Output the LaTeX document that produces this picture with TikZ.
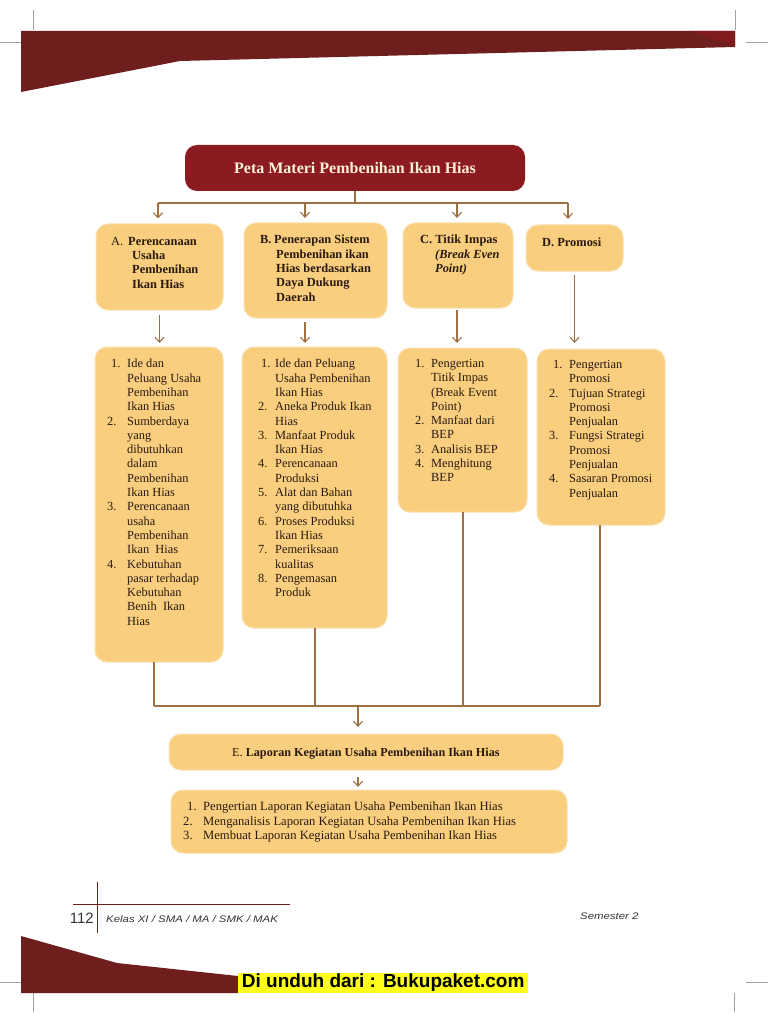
\documentclass[tikz,border=0pt]{standalone}
\usepackage{fontspec}
\usepackage{graphicx}
\usetikzlibrary{arrows.meta,calc}
\setmainfont{Liberation Serif}
\newfontfamily\sansf{Liberation Sans}
\definecolor{maroon}{HTML}{6E1E1C}
\definecolor{titlered}{HTML}{8B1B20}
\definecolor{titletext}{HTML}{FCF0DC}
\definecolor{boxfill}{HTML}{F9CE7F}
\definecolor{boxedge}{HTML}{FBE0AE}
\definecolor{conncol}{HTML}{9E7042}
\definecolor{ink}{HTML}{2A1A0E}
\definecolor{cropgray}{HTML}{A0A0A0}
\definecolor{hilite}{HTML}{FFFF1A}
\newlength\numw
\newlength\firstoff
\setlength\firstoff{4pt}
\newcommand\nm[1]{\makebox[\numw][l]{#1}}
\newcommand\nmf[1]{\makebox[\numw][l]{\hspace*{\firstoff}#1}}
\newcommand\ind{\hspace*{\numw}}
\newcommand\lstfont{\fontsize{12.4}{14.3}\selectfont}
\begin{document}
\begin{tikzpicture}[x=1pt,y=-1pt,
  box/.style={fill=boxfill, draw=boxedge, line width=1pt, rounded corners=12pt, inner sep=0pt, outer sep=0pt},
  hdr/.style={anchor=north west, inner sep=0pt, align=left, text=ink, font=\lstfont\bfseries},
  lst/.style={anchor=north west, inner sep=0pt, align=left, text=ink},
  cline/.style={draw=conncol, line width=1.1pt},
  arr/.style={cline, -{Straight Barb[length=5pt,width=9pt]}},
  crop/.style={draw=cropgray, line width=0.6pt},
]
\useasboundingbox (0,0) rectangle (768,1024);
\fill[white] (0,0) rectangle (768,1024);

% crop marks
\draw[crop] (33,10) -- (33,30);
\draw[crop] (0,42) -- (21,42);
\draw[crop] (735,10) -- (735,30);
\draw[crop] (746,42) -- (768,42);
\draw[crop] (33,993) -- (33,1012);
\draw[crop] (0,982) -- (21,982);
\draw[crop] (734,993) -- (734,1012);
\draw[crop] (746,982) -- (768,982);

% top band
\fill[maroon] (21,31) -- (735,31) -- (735,47) -- (180,61) -- (21,92) -- cycle;
\fill[titlered!60!maroon] (690,31) -- (735,31) -- (735,46) -- cycle;

% title
\node[fill=titlered, rounded corners=12pt, minimum width=340pt, minimum height=46pt, inner sep=0pt,
      text=titletext, font=\fontsize{16}{18}\selectfont\bfseries] (T) at (355,168) {Peta Materi Pembenihan Ikan Hias};

% top row boxes
\node[box, minimum width=127pt, minimum height=86pt] (A) at (159.5,267) {};
\node[box, minimum width=143pt, minimum height=95pt] (B) at (315.5,270.5) {};
\node[box, minimum width=110pt, minimum height=85pt] (C) at (458,265.5) {};
\node[box, minimum width=97pt, minimum height=46pt] (D) at (574.5,248) {};

% second row boxes
\node[box, minimum width=128pt, minimum height=315pt] (A2) at (159,504.5) {};
\node[box, minimum width=145pt, minimum height=281pt] (B2) at (314.5,487.5) {};
\node[box, minimum width=129pt, minimum height=164pt] (C2) at (462.5,430) {};
\node[box, minimum width=128pt, minimum height=176pt] (D2) at (601,437) {};

% bottom boxes
\node[box, minimum width=394pt, minimum height=36pt] (E) at (366,752) {};
\node[box, minimum width=396pt, minimum height=63pt] (F) at (369,821.5) {};

% connectors: title to top row
\coordinate (J) at (355,203);
\coordinate (hA) at (158,203);
\coordinate (hB) at (305,203);
\coordinate (hC) at (457,203);
\coordinate (hD) at (568,203);
\draw[cline] (T.south) -- (J);
\draw[cline] (hA) -- (hD);
\draw[arr, shorten >=5.5pt] (hA) -- (hA |- A.north);
\draw[arr, shorten >=5pt] (hB) -- (hB |- B.north);
\draw[arr, shorten >=5pt] (hC) -- (hC |- C.north);
\draw[arr, shorten >=6pt] (hD) -- (hD |- D.north);

% top row to second row
\draw[arr, shorten <=5pt, shorten >=4pt] (A.south) -- (A.south |- A2.north);
\draw[arr, shorten <=4pt, shorten >=4pt] (hB |- B.south) -- (hB |- B2.north);
\draw[arr, shorten <=2pt, shorten >=5pt] (hC |- C.south) -- (hC |- C2.north);
\draw[arr, shorten <=4pt, shorten >=6pt] (D.south) -- (D.south |- D2.north);

% second row to E
\coordinate (bA) at (154,706);
\coordinate (bB) at (315,706);
\coordinate (bC) at (463,706);
\coordinate (bD) at (600,706);
\coordinate (bM) at (358,706);
\draw[cline] (bA |- A2.south) -- (bA);
\draw[cline] (bB |- B2.south) -- (bB);
\draw[cline] (bC |- C2.south) -- (bC);
\draw[cline] (bD |- D2.south) -- (bD);
\draw[cline] (bA) -- (bD);
\draw[arr, shorten >=7pt] (bM) -- (bM |- E.north);
\draw[arr, shorten <=7pt, shorten >=3pt] (bM |- E.south) -- (bM |- F.north);

% header texts
\node[hdr] (At) at (111,237) {\makebox[17pt][l]{\mdseries A.}Perencanaan\\\hspace*{21pt}Usaha\\\hspace*{21pt}Pembenihan\\\hspace*{21pt}Ikan Hias};
\node[hdr] (Bt) at (260,235) {\makebox[14pt][l]{B.}Penerapan Sistem\\\hspace*{16pt}Pembenihan ikan\\\hspace*{16pt}Hias berdasarkan\\\hspace*{16pt}Daya Dukung\\\hspace*{16pt}Daerah};
\node[hdr] (Ct) at (420,235) {C. Titik Impas\\\hspace*{15pt}\textit{(Break Even}\\\hspace*{15pt}\textit{Point)}};
\node[hdr] (Dt) at (542,238) {D. Promosi};

% list texts
\node[lst, font=\lstfont\setlength\numw{20pt}] (A2t) at (107,359)
 {\nmf{1.}Ide dan\\\ind Peluang Usaha\\\ind Pembenihan\\\ind Ikan Hias\\
  \nm{2.}Sumberdaya\\\ind yang\\\ind dibutuhkan\\\ind dalam\\\ind Pembenihan\\\ind Ikan Hias\\
  \nm{3.}Perencanaan\\\ind usaha\\\ind Pembenihan\\\ind Ikan~ Hias\\
  \nm{4.}Kebutuhan\\\ind pasar terhadap\\\ind Kebutuhan\\\ind Benih~ Ikan\\\ind Hias};
\node[lst, font=\lstfont\setlength\numw{17pt}\setlength\firstoff{3pt}] (B2t) at (258,359)
 {\nmf{1.}Ide dan Peluang\\\ind Usaha Pembenihan\\\ind Ikan Hias\\
  \nm{2.}Aneka Produk Ikan\\\ind Hias\\
  \nm{3.}Manfaat Produk\\\ind Ikan Hias\\
  \nm{4.}Perencanaan\\\ind Produksi\\
  \nm{5.}Alat dan Bahan\\\ind yang dibutuhka\\
  \nm{6.}Proses Produksi\\\ind Ikan Hias\\
  \nm{7.}Pemeriksaan\\\ind kualitas\\
  \nm{8.}Pengemasan\\\ind Produk};
\node[lst, font=\lstfont\setlength\numw{16pt}] (C2t) at (415,359)
 {\nm{1.}Pengertian\\\ind Titik Impas\\\ind (Break Event\\\ind Point)\\
  \nm{2.}Manfaat dari\\\ind BEP\\
  \nm{3.}Analisis BEP\\
  \nm{4.}Menghitung\\\ind BEP};
\node[lst, font=\lstfont\setlength\numw{20pt}] (D2t) at (549,360)
 {\nmf{1.}Pengertian\\\ind Promosi\\
  \nm{2.}Tujuan Strategi\\\ind Promosi\\\ind Penjualan\\
  \nm{3.}Fungsi Strategi\\\ind Promosi\\\ind Penjualan\\
  \nm{4.}Sasaran Promosi\\\ind Penjualan};

\node[anchor=base west, inner sep=0pt, text=ink, font=\fontsize{12.2}{14.3}\selectfont] (Et) at (232,756)
 {E. \textbf{Laporan Kegiatan Usaha Pembenihan Ikan Hias}};
\node[lst, font=\fontsize{12.6}{14.2}\selectfont\setlength\numw{20pt}] (Ft) at (183,802)
 {\nmf{1.}Pengertian Laporan Kegiatan Usaha Pembenihan Ikan Hias\\
  \nm{2.}Menganalisis Laporan Kegiatan Usaha Pembenihan Ikan Hias\\
  \nm{3.}Membuat Laporan Kegiatan Usaha Pembenihan Ikan Hias};

% footer
\draw[maroon, line width=1pt] (97.5,882) -- (97.5,933);
\draw[maroon, line width=1pt] (73,904) -- (290,904);
\node[anchor=base east, inner sep=0pt, text=black!80, font=\sansf\fontsize{15}{15}\selectfont] (pg) at (94,923) {112};
\node[anchor=base west, inner sep=0pt, text=black!80, font=\sansf\itshape\fontsize{9.5}{10}\selectfont] (kelas) at (106,922)
 {\scalebox{1.2}[1]{Kelas XI / SMA / MA / SMK / MAK}};
\node[anchor=base west, inner sep=0pt, text=black!80, font=\sansf\itshape\fontsize{9.5}{10}\selectfont] (sem) at (580,919)
 {\scalebox{1.2}[1]{Semester 2}};

\fill[maroon] (21,936) -- (117,963) -- (238,976) -- (238,993) -- (21,993) -- cycle;
\node[fill=hilite, inner sep=0pt, minimum width=290pt, minimum height=20pt, anchor=west,
      font=\sansf\bfseries\fontsize{19}{20}\selectfont] (dl) at (238,983) {Di unduh dari : Bukupaket.com};
\end{tikzpicture}
\end{document}
